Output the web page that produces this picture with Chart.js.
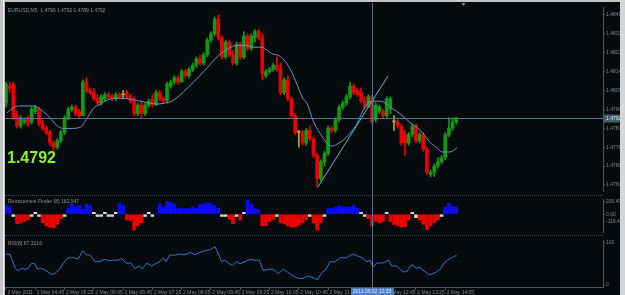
<!DOCTYPE html>
<html>
<head>
<meta charset="utf-8">
<title>EURUSD,M5</title>
<script src="https://cdn.jsdelivr.net/npm/chart.js@4.4.1/dist/chart.umd.min.js"></script>
<style>
  body { margin: 0; width: 625px; height: 295px; overflow: hidden; background: #c4c4c4; position: relative; }
  #frame { position: absolute; left: 5px; top: 2px; width: 615px; height: 293px; background: #050a0c; }
  .leftedge { position: absolute; left: 3px; top: 0; width: 1px; height: 295px; background: #eeeeee; }
  .scroll { position: absolute; left: 620px; top: 0; width: 5px; height: 295px; background: #d6d6d6; }
  .sep { position: absolute; left: 5px; width: 598px; height: 0; border-top: 1px dotted #3a4a4d; }
  canvas { position: absolute; left: 5px; }
</style>
</head>
<body>
<div id="frame"></div>
<div class="leftedge"></div>
<div class="scroll"></div>
<div class="sep" style="top:195px"></div>
<div class="sep" style="top:235px"></div>
<canvas id="mainChart" width="615" height="192" style="top:3px"></canvas>
<canvas id="histChart" width="615" height="41" style="top:195px"></canvas>
<canvas id="rsiChart" width="615" height="59" style="top:236px"></canvas>
<script>
// M5 bars, 2 May 2011 from 04:05
const opens = [
  1.4799,1.4807,1.4808,1.4793,1.4788,1.4790,1.4792,1.4790,1.4795,1.4796,
  1.4789,1.4787,1.4785,1.4780,1.4778,1.4781,1.4785,1.4792,1.4796,1.4797,
  1.4795,1.4793,1.4809,1.4805,1.4804,1.4801,1.4799,1.4801,1.4803,1.4802,
  1.4801,1.4803,1.4803,1.4804,1.4802,1.4800,1.4794,1.4798,1.4794,1.4798,
  1.4801,1.4798,1.4804,1.4801,1.4800,1.4807,1.4809,1.4811,1.4809,1.4814,
  1.4812,1.4815,1.4817,1.4820,1.4818,1.4822,1.4829,1.4832,1.4839,1.4830,
  1.4821,1.4828,1.4822,1.4818,1.4827,1.4821,1.4831,1.4825,1.4830,1.4833,
  1.4830,1.4812,1.4814,1.4815,1.4817,1.4815,1.4804,1.4810,1.4801,1.4793,
  1.4785,1.4785,1.4780,1.4786,1.4782,1.4774,1.4763,1.4771,1.4775,1.4787,
  1.4786,1.4791,1.4797,1.4799,1.4802,1.4807,1.4805,1.4804,1.4800,1.4797,
  1.4802,1.4791,1.4795,1.4795,1.4793,1.4796,1.4790,1.4790,1.4788,1.4784,
  1.4780,1.4784,1.4788,1.4781,1.4784,1.4777,1.4765,1.4766,1.4769,1.4771,
  1.4773,1.4784,1.4787,1.4790
];
const highs = [
  1.4809,1.4809,1.4809,1.4795,1.4793,1.4792,1.4793,1.4797,1.4798,1.4797,
  1.4791,1.4788,1.4786,1.4781,1.4782,1.4786,1.4793,1.4797,1.4798,1.4798,
  1.4796,1.4810,1.4811,1.4806,1.4806,1.4803,1.4803,1.4804,1.4804,1.4803,
  1.4804,1.4804,1.4805,1.4805,1.4803,1.4802,1.4799,1.4800,1.4799,1.4801,
  1.4803,1.4805,1.4805,1.4802,1.4809,1.4810,1.4812,1.4812,1.4815,1.4815,
  1.4816,1.4818,1.4821,1.4822,1.4823,1.4830,1.4833,1.4840,1.4841,1.4831,
  1.4829,1.4829,1.4824,1.4828,1.4828,1.4833,1.4832,1.4832,1.4834,1.4834,
  1.4832,1.4815,1.4816,1.4818,1.4821,1.4818,1.4811,1.4812,1.4802,1.4794,
  1.4786,1.4786,1.4787,1.4788,1.4783,1.4775,1.4772,1.4776,1.4788,1.4788,
  1.4792,1.4798,1.4800,1.4803,1.4809,1.4808,1.4806,1.4806,1.4802,1.4803,
  1.4803,1.4799,1.4798,1.4796,1.4802,1.4802,1.4793,1.4791,1.4789,1.4786,
  1.4785,1.4789,1.4789,1.4785,1.4785,1.4778,1.4767,1.4770,1.4773,1.4774,
  1.4785,1.4792,1.4792,1.4792
];
const lows = [
  1.4797,1.4804,1.4791,1.4787,1.4787,1.4789,1.4788,1.4789,1.4794,1.4788,
  1.4786,1.4784,1.4779,1.4776,1.4777,1.4780,1.4784,1.4791,1.4795,1.4793,
  1.4792,1.4793,1.4804,1.4803,1.4800,1.4798,1.4798,1.4800,1.4801,1.4800,
  1.4800,1.4801,1.4801,1.4801,1.4799,1.4793,1.4793,1.4792,1.4793,1.4797,
  1.4797,1.4798,1.4800,1.4799,1.4799,1.4806,1.4808,1.4808,1.4809,1.4811,
  1.4811,1.4814,1.4816,1.4817,1.4817,1.4821,1.4828,1.4831,1.4829,1.4820,
  1.4820,1.4821,1.4817,1.4817,1.4820,1.4820,1.4824,1.4824,1.4828,1.4829,
  1.4810,1.4811,1.4813,1.4814,1.4814,1.4803,1.4803,1.4800,1.4792,1.4784,
  1.4778,1.4779,1.4779,1.4781,1.4773,1.4759,1.4762,1.4769,1.4774,1.4785,
  1.4785,1.4790,1.4796,1.4798,1.4801,1.4803,1.4802,1.4799,1.4796,1.4797,
  1.4789,1.4790,1.4794,1.4792,1.4792,1.4794,1.4786,1.4787,1.4779,1.4774,
  1.4779,1.4783,1.4780,1.4780,1.4776,1.4765,1.4764,1.4764,1.4768,1.4770,
  1.4772,1.4783,1.4786,1.4789
];
const closes = [
  1.4808,1.4806,1.4792,1.4788,1.4792,1.4791,1.4789,1.4796,1.4797,1.4789,
  1.4787,1.4785,1.4780,1.4778,1.4781,1.4785,1.4792,1.4796,1.4797,1.4794,
  1.4793,1.4809,1.4805,1.4804,1.4801,1.4799,1.4802,1.4803,1.4802,1.4801,
  1.4803,1.4802,1.4803,1.4802,1.4800,1.4794,1.4798,1.4794,1.4798,1.4800,
  1.4798,1.4804,1.4801,1.4800,1.4808,1.4809,1.4811,1.4809,1.4814,1.4812,
  1.4815,1.4817,1.4820,1.4818,1.4822,1.4829,1.4832,1.4839,1.4830,1.4821,
  1.4828,1.4822,1.4818,1.4827,1.4821,1.4831,1.4825,1.4831,1.4833,1.4830,
  1.4813,1.4814,1.4815,1.4817,1.4815,1.4804,1.4810,1.4801,1.4793,1.4785,
  1.4785,1.4780,1.4786,1.4782,1.4774,1.4763,1.4771,1.4775,1.4787,1.4786,
  1.4791,1.4797,1.4799,1.4802,1.4807,1.4804,1.4803,1.4800,1.4797,1.4802,
  1.4790,1.4798,1.4797,1.4793,1.4801,1.4801,1.4790,1.4788,1.4780,1.4780,
  1.4784,1.4788,1.4781,1.4784,1.4777,1.4766,1.4766,1.4769,1.4771,1.4773,
  1.4784,1.4787,1.4790,1.4792
];

// moving average, read at bar positions
const maAt = [0.3,1.9,3.8,7.4,9.3,12.0,13.9,15.6,17.5,20.2,22.1,23.8,25.7,28.4,31.1,33.9,36.6,39.3,41.3,43.4,
  45.4,49.5,53.0,55.7,58.5,60.4,63.1,65.8,67.5,69.9,71.3,72.9,74.3,75.7,77.6,79.5,81.1,82.2,83.9,85.8,
  87.7,89.1,90.4,92.1,94.0,95.9,97.5,98.9,100.3,102.2,104.1,105.7,107.7,110.4,112.3,113.9,115.8,117.8,119.1,121.3,123.2];
const maVal = [1.47943,1.47967,1.47976,1.47976,1.47962,1.47920,1.47883,1.47869,1.47869,1.47874,
  1.47916,1.47962,1.47985,1.48009,1.48013,1.48009,1.47999,1.47990,1.47985,1.47990,
  1.47999,1.48060,1.48121,1.48172,1.48223,1.48246,1.48265,1.48265,1.48256,1.48256,
  1.48242,1.48223,1.48218,1.48200,1.48153,1.48079,1.48013,1.47990,1.47906,1.47846,
  1.47799,1.47785,1.47794,1.47813,1.47846,1.47892,1.47953,1.47990,1.47999,1.47999,
  1.47985,1.47962,1.47939,1.47897,1.47874,1.47846,1.47804,1.47776,1.47757,1.47757,1.47776];

// trend line
const trendAt = [85.2, 104.4];
const trendVal = [1.4759, 1.4812];

// Retracement Finder histogram, b = up, r = down, w = flat
const histVals = [
  140,120,-35,-151,-137,-114,-91,-35,30,-35,
  -137,-183,-205,-215,-160,-70,-35,91,160,114,
  137,80,160,140,30,-35,-35,30,-35,-35,
  30,170,137,-91,-100,-251,-183,-137,-35,30,
  -35,10,160,114,205,183,160,91,91,91,
  91,114,91,150,160,183,170,137,91,-35,
  -35,-78,-150,-35,-91,30,219,160,91,70,
  -183,-183,-114,-80,-35,-137,-150,-183,-205,-205,
  -170,-137,-91,-35,-137,-251,-137,-35,91,91,
  114,137,114,114,114,137,91,30,-35,-70,
  -183,-114,-137,-114,30,-114,-160,-183,-205,-196,
  -91,30,-55,-91,-160,-242,-183,-137,-91,-35,
  114,170,123,114
];
const histKind = "bbwrrrrwww" + "rrrrrrwbbb" + "bbbbwwwwww" + "wbbrrrrrww" + "wbbbbbbbbb" +
  "bbbbbbbbbw" + "wrrwrwbbbb" + "rrrrwrrrrr" + "rrrwrrrwbb" + "bbbbbbbwwr" +
  "rrrrwrrrrr" + "rwwrrrrrrw" + "bbbb";

// RSI, read at bar positions
const rsiAt = [0.0,1.1,2.5,3.4,4.3,5.2,6.1,7.0,7.9,8.6,9.3,10.2,11.1,12.5,13.4,14.6,15.7,17.0,18.4,19.8,
  20.9,21.9,23.0,24.3,25.7,27.0,28.0,29.3,30.7,31.6,32.8,34.1,35.2,36.4,37.3,38.4,39.8,41.2,42.1,43.0,
  43.7,44.8,46.2,47.5,48.9,50.3,51.6,53.0,54.4,55.7,57.1,58.0,58.9,59.8,60.7,61.9,63.0,63.9,65.3,66.7,
  68.0,69.2,70.3,71.7,73.0,74.4,75.8,77.1,78.5,79.9,81.2,82.3,83.5,85.1,86.3,87.4,88.5,89.9,91.3,93.1,
  94.7,95.8,97.2,98.6,99.5,100.2,101.3,102.6,103.6,104.5,105.4,106.7,108.4,109.5,110.2,111.1,112.0,113.1,114.2,115.4,
  116.3,117.5,118.6,119.7,120.6,121.8,123.1];
const rsiVal = [73,72,39,32,38,36,39,51,49,36,39,36,32,23,26,36,51,64,64,61,
  81,71,70,54,55,60,57,58,58,62,51,51,38,44,37,51,44,51,55,64,
  55,71,70,73,71,77,71,77,81,83,91,73,55,58,51,46,55,49,55,60,
  58,58,33,36,36,26,36,28,20,14,14,20,17,11,28,36,54,54,64,64,
  73,69,64,54,58,41,51,51,54,58,44,44,30,30,41,47,39,41,32,24,
  24,29,36,51,58,64,70];

// axis ticks
const priceTicks = [1.4760,1.4769,1.4778,1.4787,1.4796,1.4805,1.4814,1.4823,1.4832,1.4841];
const histTicks = [200.498, 0, -119.463];
const rsiTicks = [100, 0];
const timeLabels = ["2 May 2011","2 May 04:45","2 May 05:25","2 May 06:05","2 May 06:45","2 May 07:25",
  "2 May 08:05","2 May 08:45","2 May 09:25","2 May 10:05","2 May 10:45","2 May 11:25",
  "2 May 12:05","2 May 12:45","2 May 13:25","2 May 14:05"];
const barsPerLabel = 8;
const crossBar = 100;
const crossTime = "2011.05.02 12:25";
const shiftBar = 125;

Chart.defaults.responsive = false;
Chart.defaults.animation = false;
Chart.defaults.events = [];
Chart.defaults.plugins.legend.display = false;
Chart.defaults.plugins.tooltip.enabled = false;
Chart.defaults.font.family = '"Liberation Sans", Arial, sans-serif';
Chart.defaults.font.size = 5;
Chart.defaults.color = '#7e8a92';

const axisColor = '#4b565d';
const crossColor = '#587189';
const xMin = -0.27, xMax = 163.1;
const hiddenX = { type: 'linear', min: xMin, max: xMax, offset: false, display: false, grid: { display: false } };
const rightAxis = (min, max, ticks, fmt) => ({
  position: 'right', min: min, max: max,
  afterBuildTicks: s => { s.ticks = ticks.map(v => ({ value: v })); },
  afterFit: s => { s.width = 17; },
  ticks: { callback: fmt, autoSkip: false, padding: 1 },
  grid: { drawOnChartArea: false, tickLength: 2, color: axisColor },
  border: { display: true, color: axisColor }
});

function drawCross(chart, bottom) {
  const ctx = chart.ctx;
  const x = Math.round(chart.scales.x.getPixelForValue(crossBar)) + 0.5;
  ctx.save();
  ctx.strokeStyle = crossColor;
  ctx.lineWidth = 1;
  ctx.beginPath();
  ctx.moveTo(x, 0);
  ctx.lineTo(x, bottom);
  ctx.stroke();
  ctx.restore();
}

function title(chart, text, y) {
  const ctx = chart.ctx;
  ctx.save();
  ctx.font = '5px "Liberation Sans", Arial, sans-serif';
  ctx.fillStyle = '#89949a';
  ctx.fillText(text, chart.chartArea.left + 3, y);
  ctx.restore();
}

//価格チャート
const idx = closes.map((c, i) => i);
const candleColor = closes.map((c, i) => c > opens[i] ? '#109c10' : (c < opens[i] ? '#ee0000' : '#a5ae1e'));
const last = closes.length - 1;

const mainOverlay = {
  id: 'mainOverlay',
  afterDraw(chart) {
    const { ctx, chartArea: a, scales: { x, y } } = chart;
    const yBid = Math.round(y.getPixelForValue(closes[last])) + 0.5;
    ctx.save();
    ctx.strokeStyle = crossColor;
    ctx.lineWidth = 1;
    ctx.beginPath();
    ctx.moveTo(a.left, yBid);
    ctx.lineTo(a.right, yBid);
    ctx.stroke();
    // shift marker
    const xs = x.getPixelForValue(shiftBar);
    ctx.fillStyle = '#6c8fb3';
    ctx.beginPath();
    ctx.moveTo(xs - 2, 0); ctx.lineTo(xs + 2, 0); ctx.lineTo(xs, 3); ctx.closePath();
    ctx.fill();
    // price box
    ctx.fillStyle = '#3f5f66';
    ctx.fillRect(a.right + 1, yBid - 4, 16, 8);
    ctx.font = '5px "Liberation Sans", Arial, sans-serif';
    ctx.fillStyle = '#dfe9e9';
    ctx.textBaseline = 'middle';
    ctx.fillText(closes[last].toFixed(4), a.right + 3, yBid);
    // big last price
    ctx.textBaseline = 'alphabetic';
    ctx.font = 'bold 16px "Liberation Sans", Arial, sans-serif';
    ctx.fillStyle = '#8cf02a';
    ctx.fillText(closes[last].toFixed(4), a.left + 2, 160);
    ctx.restore();
    drawCross(chart, chart.height);
    title(chart, 'EURUSD,M5  ' + [opens[last], highs[last], lows[last], closes[last]].map(v => v.toFixed(4)).join(' '), a.top + 5);
  }
};

new Chart(document.getElementById('mainChart'), {
  type: 'bar',
  data: {
    datasets: [
      {
        type: 'line', order: 0,
        data: maAt.map((v, i) => ({ x: v, y: maVal[i] })),
        borderColor: '#5f97c9', borderWidth: 1, pointRadius: 0,
        tension: 0.4, cubicInterpolationMode: 'monotone'
      },
      {
        type: 'line', order: 0,
        data: trendAt.map((v, i) => ({ x: v, y: trendVal[i] })),
        borderColor: '#3cc0d4', borderWidth: 1, pointRadius: 0
      },
      {
        order: 2, grouped: false, barThickness: 1,
        data: idx.map(i => ({ x: i, y: [lows[i], highs[i]] })),
        backgroundColor: candleColor
      },
      {
        order: 1, grouped: false, barThickness: 3, minBarLength: 1,
        data: idx.map(i => ({ x: i, y: [opens[i], closes[i]] })),
        backgroundColor: candleColor
      }
    ]
  },
  options: {
    layout: { padding: { top: 1, bottom: 3, left: 0, right: 0 } },
    scales: {
      x: hiddenX,
      y: rightAxis(1.475712, 1.484473, priceTicks, v => v.toFixed(4))
    }
  },
  plugins: [mainOverlay]
});

//ヒストグラム
const histColors = { b: '#0c0cf2', r: '#ec0000', w: '#d8d8d8' };

new Chart(document.getElementById('histChart'), {
  type: 'bar',
  data: {
    datasets: [{
      data: histVals.map((v, i) => ({ x: i, y: v })),
      backgroundColor: histKind.split('').map(k => histColors[k]),
      barThickness: 3
    }]
  },
  options: {
    layout: { padding: { top: 2, bottom: 1, left: 0, right: 0 } },
    scales: {
      x: hiddenX,
      y: rightAxis(-280, 240, histTicks, v => v === 0 ? '0.00' : String(v))
    }
  },
  plugins: [{
    id: 'histOverlay',
    afterDraw(chart) {
      drawCross(chart, chart.height);
      title(chart, 'Retracement Finder (8) 182.547', 8);
    }
  }]
});

//RSI
new Chart(document.getElementById('rsiChart'), {
  type: 'line',
  data: {
    datasets: [{
      data: rsiAt.map((v, i) => ({ x: v, y: rsiVal[i] })),
      borderColor: '#1f7ad4', borderWidth: 1, pointRadius: 0, tension: 0
    }]
  },
  options: {
    layout: { padding: { top: 1, bottom: 0, left: 0, right: 0 } },
    scales: {
      x: {
        type: 'linear', min: xMin, max: xMax, offset: false,
        afterBuildTicks: s => { s.ticks = timeLabels.map((t, k) => ({ value: k * barsPerLabel })); },
        afterFit: s => { s.height = 8; },
        ticks: {
          callback: v => ' ' + timeLabels[Math.round(v / barsPerLabel)],
          align: 'start', maxRotation: 0, minRotation: 0, autoSkip: false, padding: 0
        },
        grid: { drawOnChartArea: false, tickLength: 3, color: axisColor },
        border: { display: true, color: axisColor }
      },
      y: rightAxis(-6.82, 106.82, rsiTicks, v => String(v))
    }
  },
  plugins: [{
    id: 'rsiOverlay',
    afterDraw(chart) {
      const { ctx, chartArea: a, scales: { x } } = chart;
      drawCross(chart, a.bottom);
      title(chart, 'RSI(8) 67.3216', 9);
      // time label under the cursor
      const xc = x.getPixelForValue(crossBar);
      ctx.save();
      ctx.font = '5px "Liberation Sans", Arial, sans-serif';
      const w = ctx.measureText(crossTime).width + 4;
      ctx.fillStyle = '#4b7fcb';
      ctx.fillRect(Math.round(xc - w / 2), a.bottom + 1, Math.round(w), chart.height - a.bottom - 1);
      ctx.fillStyle = '#e6eeff';
      ctx.textAlign = 'center';
      ctx.textBaseline = 'middle';
      ctx.fillText(crossTime, xc, a.bottom + 5);
      ctx.restore();
    }
  }]
});
</script>
</body>
</html>
